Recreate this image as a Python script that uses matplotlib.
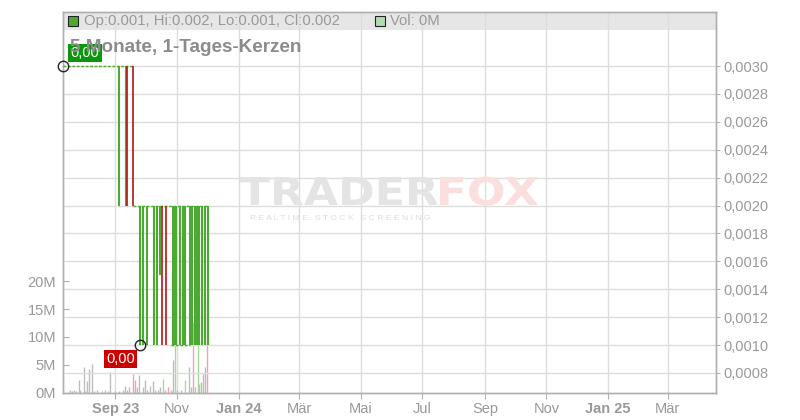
import numpy as np
import pandas as pd
import matplotlib
matplotlib.use("Agg")
import matplotlib.pyplot as plt
from matplotlib.patches import Rectangle, PathPatch
from matplotlib.textpath import TextPath
from matplotlib.font_manager import FontProperties
from matplotlib.transforms import Affine2D

plt.rcParams['font.family'] = ['Liberation Sans', 'DejaVu Sans']

# Kerzen (Tageskerzen, Open/Close; High/Low = Body)
candle_dates = ['2023-09-04', '2023-09-11', '2023-09-12', '2023-09-18',
                '2023-09-25', '2023-09-28', '2023-10-02', '2023-10-09', '2023-10-12',
                '2023-10-15', '2023-10-17', '2023-10-21', '2023-10-28', '2023-10-29',
                '2023-10-31', '2023-11-04', '2023-11-07', '2023-11-09', '2023-11-14',
                '2023-11-16', '2023-11-19', '2023-11-21', '2023-11-23', '2023-11-26',
                '2023-11-29', '2023-12-02']
candle_open = [0.002, 0.002, 0.003, 0.003,
               0.001, 0.001, 0.001, 0.001, 0.001,
               0.0015, 0.002, 0.002, 0.001, 0.001,
               0.001, 0.001, 0.001, 0.001, 0.001,
               0.001, 0.001, 0.001, 0.001, 0.001,
               0.001, 0.001]
candle_close = [0.003, 0.003, 0.002, 0.002,
                0.002, 0.002, 0.002, 0.002, 0.002,
                0.002, 0.001, 0.001, 0.002, 0.002,
                0.002, 0.002, 0.002, 0.002, 0.002,
                0.002, 0.002, 0.002, 0.002, 0.002,
                0.002, 0.002]

# Tage ohne Bewegung (O=H=L=C) -> gestrichelte Linien
flat_start = ['2023-07-11', '2023-09-18', '2023-10-26']
flat_end = ['2023-09-18', '2023-12-02', '2023-11-14']
flat_price = [0.003, 0.002, 0.001]

# Volumen (Mio. Stueck), Richtung: g=neutral, u=steigend, d=fallend
vol_dates = ['2023-07-18', '2023-07-20', '2023-07-22', '2023-07-24', '2023-07-27',
             '2023-07-28', '2023-08-01', '2023-08-02', '2023-08-04', '2023-08-06',
             '2023-08-09', '2023-08-11', '2023-08-14', '2023-08-19', '2023-08-22',
             '2023-08-25', '2023-08-27', '2023-09-01', '2023-09-04', '2023-09-08',
             '2023-09-10', '2023-09-12', '2023-09-14', '2023-09-18', '2023-09-20',
             '2023-09-22', '2023-09-24', '2023-09-28', '2023-09-30', '2023-10-02',
             '2023-10-05', '2023-10-08', '2023-10-10', '2023-10-13', '2023-10-15',
             '2023-10-18', '2023-10-20', '2023-10-23', '2023-10-26', '2023-10-28',
             '2023-10-30', '2023-11-01', '2023-11-05', '2023-11-09', '2023-11-13',
             '2023-11-15', '2023-11-17', '2023-11-19', '2023-11-22', '2023-11-23',
             '2023-11-25', '2023-11-27', '2023-11-29', '2023-12-01']
vol_values = [0.4, 0.2, 0.4, 0.2, 2.3,
              0.4, 4.6, 0.3, 2.1, 4.3,
              5.2, 0.2, 0.5, 0.2, 0.4,
              0.3, 3.6, 0.2, 0.2, 0.5,
              1.2, 0.5, 1.0, 3.4, 2.3,
              1.0, 3.2, 1.0, 2.3, 0.5,
              1.2, 2.0, 0.5, 0.4, 1.0,
              2.4, 0.4, 1.0, 0.4, 5.8,
              9.0, 0.4, 0.5, 2.2, 4.6,
              1.0, 12.7, 1.0, 9.0, 1.6,
              1.9, 3.4, 4.5, 17.0]
vol_dir = ['g', 'g', 'g', 'g', 'g',
           'g', 'g', 'g', 'g', 'g',
           'g', 'g', 'g', 'g', 'g',
           'g', 'g', 'g', 'g', 'g',
           'g', 'd', 'g', 'd', 'd',
           'g', 'g', 'g', 'g', 'g',
           'g', 'g', 'g', 'g', 'g',
           'u', 'g', 'd', 'g', 'g',
           'u', 'g', 'g', 'u', 'g',
           'g', 'd', 'g', 'u', 'g',
           'g', 'g', 'g', 'd']

month_ticks = ['2023-09-01', '2023-11-01', '2024-01-01', '2024-03-01', '2024-05-01',
               '2024-07-01', '2024-09-01', '2024-11-01', '2025-01-01', '2025-03-01']
month_labels = ['Sep 23', 'Nov', 'Jan 24', 'Mär', 'Mai', 'Jul', 'Sep', 'Nov', 'Jan 25', 'Mär']
price_ticks = [0.0008, 0.0010, 0.0012, 0.0014, 0.0016, 0.0018, 0.0020,
               0.0022, 0.0024, 0.0026, 0.0028, 0.0030]
vol_ticks = [0, 5, 10, 15, 20]

GREEN = '#4caa32'
RED = '#b81414'
GRID = '#dddddd'
AXC = '#b0b0b0'
TXT = '#999999'

W, H = 800, 420
fig = plt.figure(figsize=(8, 4.2), dpi=100)
L, R, T, B = 63, 716, 12, 392.5
ax_vol = fig.add_axes([L / W, (H - B) / H, (R - L) / W, (B - T) / H])
ax = ax_vol.twinx()

d = lambda s: pd.to_datetime(s)

# X-Achse (auf der Volumen-Achse, die Zwillingsachse blendet x aus)
ax_vol.set_xlim(d('2023-07-11'), d('2025-04-18'))
ax_vol.set_xticks(pd.to_datetime(month_ticks))
ax_vol.set_xticklabels(month_labels)
for lab in ax_vol.get_xticklabels():
    if any(ch.isdigit() for ch in lab.get_text()):
        lab.set_fontweight('bold')
ax_vol.tick_params(axis='x', direction='out', length=4, color=AXC, labelcolor=TXT,
                   labelsize=10.5, pad=3)
ax_vol.grid(True, axis='x', color=GRID, linewidth=1)
ax_vol.set_axisbelow(True)

# Legendenleiste
bar_h = 18 / (B - T)
ax_vol.add_patch(Rectangle((0, 1 - bar_h), 1, bar_h, transform=ax_vol.transAxes,
                           fc='#e6e6e6', ec='none', zorder=0.2))

# Volumen
vcol = {'g': '#bdbdbd', 'u': '#a6d99c', 'd': '#f0a3ab'}
ax_vol.vlines(pd.to_datetime(vol_dates), 0, np.array(vol_values) * 1e6,
              colors=[vcol[c] for c in vol_dir], linewidth=1.0, zorder=2)
ax_vol.set_ylim(0, (B - T) / 27.8 * 5 * 1e6)
ax_vol.set_yticks([v * 1e6 for v in vol_ticks])
ax_vol.set_yticklabels([f'{v}M' for v in vol_ticks])
ax_vol.tick_params(axis='y', direction='in', length=4, color=AXC, labelcolor=TXT,
                   labelsize=10.5, pad=5)

# Preis
px_per = 27.9
ax.set_ylim(0.0008 - (B - 373) / px_per * 0.0002, 0.0030 + (66 - T) / px_per * 0.0002)
ax.set_yticks(price_ticks)
ax.set_yticklabels([f'{p:.4f}'.replace('.', ',') for p in price_ticks])
ax.tick_params(axis='y', direction='out', length=3, color=AXC, labelcolor=TXT,
               labelsize=10.5, pad=2)
ax.grid(True, axis='y', color=GRID, linewidth=1)
ax.set_axisbelow(True)

for i in range(len(flat_start)):
    ax.hlines(flat_price[i], d(flat_start[i]), d(flat_end[i]), colors=GREEN,
              linewidth=1, linestyles=(0, (2, 1.2)), zorder=3)

for dt, o, c in zip(candle_dates, candle_open, candle_close):
    col = GREEN if c > o else RED
    ax.vlines(d(dt), min(o, c), max(o, c), colors=col,
              linewidth=1.5 if c > o else 1.2, zorder=4)

# Hoch / Tief Markierungen
hi_date, hi_val = flat_start[0], flat_price[0]
lo_date, lo_val = candle_dates[4], candle_open[4]
for dt, val in [(hi_date, hi_val), (lo_date, lo_val)]:
    ax.plot(d(dt), val, 'o', ms=7.5, mfc='none', mec='#222222', mew=1, zorder=6,
            clip_on=False)
ax.annotate('0,00', (d(hi_date), hi_val), xytext=(22, 13), textcoords='offset pixels',
            ha='center', va='center', color='white', fontsize=10.5, zorder=7,
            bbox=dict(boxstyle='square,pad=0.15', fc='#0c960c', ec='none'))
ax.annotate('0,00', (d(lo_date), lo_val), xytext=(-19, -14), textcoords='offset pixels',
            ha='center', va='center', color='white', fontsize=10.5, zorder=7,
            bbox=dict(boxstyle='square,pad=0.15', fc='#cc0000', ec='none'))

for a in (ax, ax_vol):
    for s in a.spines.values():
        s.set_color(AXC)
        s.set_linewidth(1)

# Legende
fig.add_artist(Rectangle((68 / W, (H - 26) / H), 10 / W, 10 / H, transform=fig.transFigure,
                         fc='#4caa32', ec='#222222', lw=0.8))
fig.text(84 / W, (H - 21) / H, 'Op:0.001, Hi:0.002, Lo:0.001, Cl:0.002', color=TXT,
         fontsize=10.7, va='center', ha='left')
fig.add_artist(Rectangle((375 / W, (H - 26) / H), 10 / W, 10 / H, transform=fig.transFigure,
                         fc='#b0dcb0', ec='#222222', lw=0.8))
fig.text(390 / W, (H - 21) / H, 'Vol: 0M', color=TXT, fontsize=10.7, va='center', ha='left')

fig.text(70 / W, (H - 47.5) / H, '5 Monate, 1-Tages-Kerzen', color='#8c8c8c', fontsize=13.6,
         fontweight='bold', va='center', ha='left', zorder=10)

# Wasserzeichen
fp = FontProperties(family='DejaVu Sans', weight='bold')
for word, x0, x1, col in [('TRADER', 240, 438, '#e4e4e4'), ('FOX', 440, 538, '#fbdede')]:
    tp = TextPath((0, 0), word, size=1, prop=fp)
    ext = tp.get_extents()
    sx = (x1 - x0) / ext.width
    sy = 28 / 0.729
    tr = Affine2D().translate(-ext.x0, 0).scale(sx / W, sy / H).translate(x0 / W, (H - 205) / H)
    fig.add_artist(PathPatch(tp, transform=tr + fig.transFigure, fc=col, ec='none', zorder=1))
fig.text(250 / W, (H - 219) / H, 'R E A L T I M E   S T O C K   S C R E E N I N G',
         color='#dcdcdc', fontsize=6.1, va='center', ha='left')

fig.savefig('out.png', dpi=100)
